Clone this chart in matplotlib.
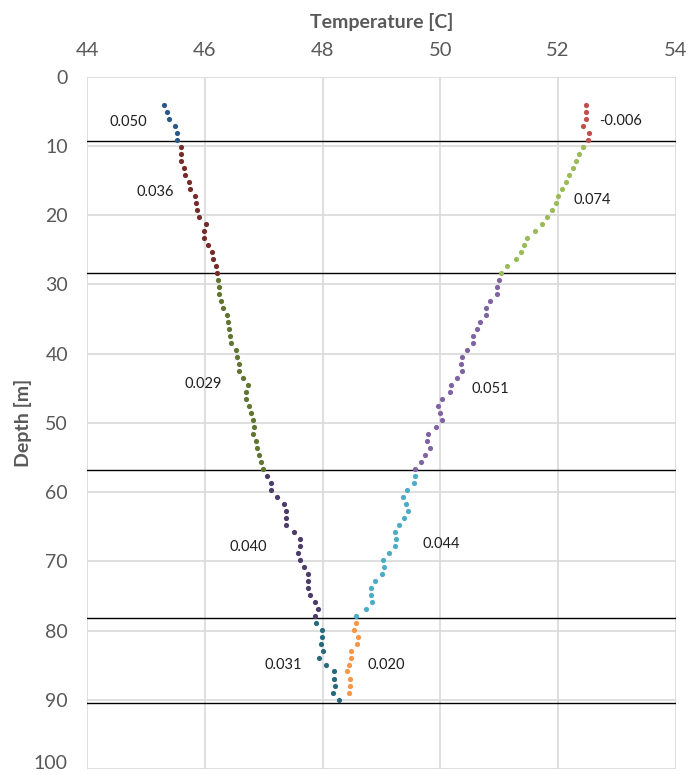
import matplotlib
matplotlib.use("Agg")
import matplotlib.pyplot as plt
from matplotlib.transforms import ScaledTranslation

# sampling depths (m)
depth = [4.1, 5.1, 6.1, 7.1, 8.1, 9.1, 10.1, 11.2, 12.2, 13.2,
         14.2, 15.2, 16.2, 17.2, 18.2, 19.2, 20.3, 21.3, 22.3, 23.3,
         24.3, 25.3, 26.3, 27.3, 28.3, 29.4, 30.4, 31.4, 32.4, 33.4,
         34.4, 35.4, 36.4, 37.4, 38.4, 39.5, 40.5, 41.5, 42.5, 43.5,
         44.5, 45.5, 46.5, 47.5, 48.6, 49.6, 50.6, 51.6, 52.6, 53.6,
         54.6, 55.6, 56.6, 57.6, 58.7, 59.7, 60.7, 61.7, 62.7, 63.7,
         64.7, 65.7, 66.7, 67.8, 68.8, 69.8, 70.8, 71.8, 72.8, 73.8,
         74.8, 75.8, 76.9, 77.9, 78.9, 79.9, 80.9, 81.9, 82.9, 83.9,
         84.9, 85.9, 87.0, 88.0, 89.0, 90.0]

# left profile, one list per interval
left_1 = [45.30, 45.35, 45.39, 45.49, 45.52, 45.53]
left_2 = [45.59, 45.60, 45.59, 45.64, 45.66, 45.73, 45.75, 45.83, 45.85, 45.86,
          45.90, 46.01, 45.98, 45.99, 46.05, 46.12, 46.14, 46.18, 46.20]
left_3 = [46.22, 46.23, 46.24, 46.27, 46.30, 46.37, 46.39, 46.41, 46.43, 46.45,
          46.53, 46.55, 46.57, 46.57, 46.64, 46.73, 46.70, 46.70, 46.75, 46.78,
          46.82, 46.84, 46.82, 46.87, 46.89, 46.92, 46.95, 46.99]
left_4 = [47.05, 47.13, 47.13, 47.23, 47.35, 47.37, 47.37, 47.37, 47.51, 47.62,
          47.61, 47.58, 47.62, 47.68, 47.75, 47.75, 47.75, 47.79, 47.87, 47.92,
          47.87]
left_5 = [47.89, 47.99, 47.99, 47.97, 48.01, 47.93, 48.05, 48.19, 48.20, 48.21,
          48.17, 48.27]

# right profile
right_1 = [52.47, 52.47, 52.47, 52.43, 52.53, 52.51]
right_2 = [52.43, 52.36, 52.30, 52.26, 52.19, 52.13, 52.07, 52.00, 51.96, 51.90,
           51.82, 51.73, 51.61, 51.48, 51.43, 51.37, 51.28, 51.14, 51.03]
right_3 = [51.00, 50.96, 50.96, 50.84, 50.78, 50.78, 50.68, 50.62, 50.55, 50.55,
           50.46, 50.37, 50.35, 50.37, 50.28, 50.18, 50.16, 50.03, 49.96, 50.00,
           50.03, 49.92, 49.80, 49.78, 49.83, 49.74, 49.67, 49.57]
right_4 = [49.57, 49.56, 49.44, 49.36, 49.41, 49.46, 49.39, 49.30, 49.23, 49.25,
           49.23, 49.13, 49.02, 49.04, 49.01, 48.89, 48.82, 48.82, 48.84, 48.73,
           48.57]
right_5 = [48.57, 48.53, 48.60, 48.58, 48.48, 48.48, 48.44, 48.41, 48.47, 48.46,
           48.44]

left_colors = ["#2C5886", "#772C2A", "#5F7530", "#4D3B69", "#276A7C"]
right_colors = ["#C0504D", "#9BBB59", "#8064A2", "#4BACC6", "#F79646"]

# interval boundaries (m)
boundaries = [9.3, 28.4, 56.8, 78.2, 90.5]

# gradient labels: text, temperature, depth
left_labels = ["0.050", "0.036", "0.029", "0.040", "0.031"]
left_label_x = [44.69, 45.15, 45.97, 46.73, 47.33]
left_label_y = [6.5, 16.6, 44.4, 67.9, 84.9]
right_labels = ["-0.006", "0.074", "0.051", "0.044", "0.020"]
right_label_x = [53.06, 52.58, 50.85, 50.01, 49.08]
right_label_y = [6.4, 17.8, 45.1, 67.5, 84.9]

plt.rcParams['font.family'] = ['Lato', 'DejaVu Sans']

fig = plt.figure(figsize=(6.99, 7.75), dpi=100)
ax = fig.add_axes([0.125, 0.0077, 0.8414, 0.8932])

# split depths the same way as the temperature lists
def chunks(vals, sizes):
    out = []
    i = 0
    for n in sizes:
        out.append(vals[i:i + n])
        i += n
    return out

left = [left_1, left_2, left_3, left_4, left_5]
right = [right_1, right_2, right_3, right_4, right_5]
left_depths = chunks(depth, [len(s) for s in left])
right_depths = chunks(depth, [len(s) for s in right])

for temps, d, c in zip(left, left_depths, left_colors):
    ax.scatter(temps, d, s=14, color=c, linewidths=0, zorder=3)
for temps, d, c in zip(right, right_depths, right_colors):
    ax.scatter(temps, d, s=14, color=c, linewidths=0, zorder=3)

for b in boundaries:
    ax.axhline(b, color="black", lw=1, zorder=2)

for t, x, y in zip(left_labels, left_label_x, left_label_y):
    ax.text(x, y, t, ha="center", va="center", fontsize=10.5, color="#1F1F1F")
for t, x, y in zip(right_labels, right_label_x, right_label_y):
    ax.text(x, y, t, ha="center", va="center", fontsize=10.5, color="#1F1F1F")

ax.set_xlim(44, 54)
ax.set_ylim(100, 0)
ax.set_xticks(range(44, 55, 2))
ax.set_yticks(range(0, 101, 10))
ax.xaxis.tick_top()
ax.xaxis.set_label_position("top")
ax.grid(True, color="#D9D9D9", lw=1.2, zorder=0)
ax.set_axisbelow(True)
for sp in ax.spines.values():
    sp.set_visible(False)

ax.tick_params(axis="x", length=0, pad=13, labelsize=14.5, labelcolor="#595959")
ax.tick_params(axis="y", length=0, pad=14, labelsize=14, labelcolor="#595959")
ax.set_xlabel("Temperature [C]", fontsize=14, fontweight="bold", color="#595959", va="center")
ax.set_ylabel("Depth [m]", fontsize=14, fontweight="bold", color="#595959", va="center")
ax.xaxis.set_label_coords(0.5, 1.079)
ax.yaxis.set_label_coords(-0.109, 0.5)

# lift the bottom "100" label a little so it stays inside the figure
last = ax.yaxis.get_major_ticks()[-1].label1
last.set_transform(last.get_transform() + ScaledTranslation(0, 5 / 72, fig.dpi_scale_trans))

fig.savefig("out.png", dpi=100)
